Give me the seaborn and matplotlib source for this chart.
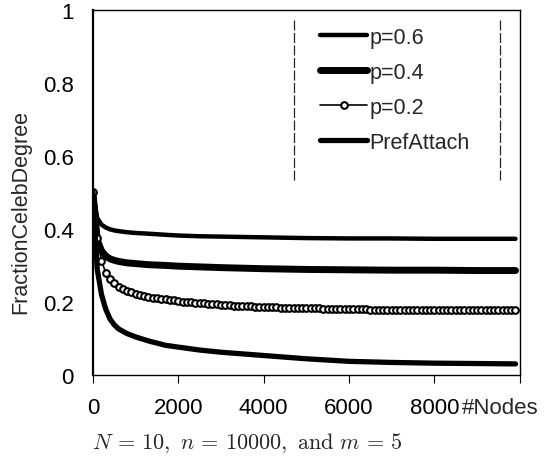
import matplotlib
matplotlib.use("Agg")
import matplotlib.pyplot as plt
import seaborn as sns
import numpy as np
import pandas as pd


# node counts for the solid curves (sampled where the curves bend)
nodes_coarse = [0, 100, 200, 300, 400, 500, 600, 800, 1000, 1300, 1700, 2000,
                2500, 3000, 4000, 5000, 6000, 7000, 8000, 9000, 9900]

frac_p06 = [0.500, 0.430, 0.412, 0.404, 0.399, 0.396, 0.394, 0.391, 0.389, 0.387,
            0.384, 0.382, 0.380, 0.379, 0.377, 0.375, 0.374, 0.374, 0.373, 0.373,
            0.373]
frac_p04 = [0.500, 0.370, 0.340, 0.326, 0.318, 0.314, 0.311, 0.307, 0.305, 0.302,
            0.300, 0.298, 0.296, 0.294, 0.291, 0.289, 0.288, 0.287, 0.287, 0.286,
            0.286]
frac_pref = [0.500, 0.290, 0.220, 0.180, 0.153, 0.137, 0.126, 0.113, 0.104, 0.093,
             0.081, 0.076, 0.068, 0.062, 0.053, 0.044, 0.037, 0.034, 0.032, 0.031,
             0.030]

# p=0.2 is drawn with a marker every 100 nodes
nodes_fine = np.arange(0, 10000, 100)
frac_p02 = [
    0.500, 0.374, 0.313, 0.280, 0.263, 0.251, 0.242, 0.235, 0.230, 0.226,
    0.222, 0.219, 0.216, 0.214, 0.212, 0.210, 0.208, 0.207, 0.205, 0.204,
    0.202, 0.201, 0.200, 0.199, 0.198, 0.197, 0.196, 0.195, 0.194, 0.193,
    0.192, 0.191, 0.191, 0.190, 0.189, 0.189, 0.188, 0.188, 0.187, 0.187,
    0.186, 0.186, 0.185, 0.185, 0.184, 0.184, 0.184, 0.183, 0.183, 0.183,
    0.182, 0.182, 0.182, 0.182, 0.181, 0.181, 0.181, 0.181, 0.181, 0.180,
    0.180, 0.180, 0.180, 0.180, 0.180, 0.179, 0.179, 0.179, 0.179, 0.179,
    0.179, 0.179, 0.179, 0.179, 0.178, 0.178, 0.178, 0.178, 0.178, 0.178,
    0.178, 0.178, 0.178, 0.178, 0.178, 0.177, 0.177, 0.177, 0.177, 0.177,
    0.177, 0.177, 0.177, 0.177, 0.177, 0.177, 0.177, 0.177, 0.177, 0.177,
]

x_ticks = [0, 2000, 4000, 6000, 8000, 10000]
x_tick_labels = ["0", "2000", "4000", "6000", "8000", ""]
y_ticks = [0, 0.2, 0.4, 0.6, 0.8, 1]
y_tick_labels = ["0", "0.2", "0.4", "0.6", "0.8", "1"]

sns.set_style("white")
plt.rcParams['font.family'] = ['Liberation Sans', 'DejaVu Sans']
plt.rcParams['mathtext.fontset'] = 'cm'

fig = plt.figure(figsize=(5.5, 4.64), dpi=100)
ax = fig.add_axes([0.169, 0.190, 0.776, 0.786])

coarse = pd.DataFrame({'nodes': nodes_coarse, 'p06': frac_p06,
                       'p04': frac_p04, 'pref': frac_pref})
fine = pd.DataFrame({'nodes': nodes_fine, 'p02': frac_p02})

sns.lineplot(data=coarse, x='nodes', y='p06', ax=ax, color='black',
             linewidth=3.2, label='p=0.6')
sns.lineplot(data=coarse, x='nodes', y='p04', ax=ax, color='black',
             linewidth=5.0, label='p=0.4')
sns.lineplot(data=fine, x='nodes', y='p02', ax=ax, color='black',
             linewidth=1.2, marker='o', markersize=4.8,
             markerfacecolor='white', markeredgecolor='black',
             markeredgewidth=1.5, label='p=0.2')
sns.lineplot(data=coarse, x='nodes', y='pref', ax=ax, color='black',
             linewidth=3.8, label='PrefAttach')

ax.set_xlim(0, 10000)
ax.set_ylim(0, 1)
ax.set_xticks(x_ticks)
ax.set_xticklabels(x_tick_labels)
ax.set_yticks(y_ticks)
ax.set_yticklabels(y_tick_labels)
ax.tick_params(axis='x', direction='out', length=6, width=0.8, pad=10,
               labelsize=16, bottom=True, colors='black')
ax.tick_params(axis='y', length=0, pad=14, labelsize=16, colors='black')

for side in ['top', 'right', 'bottom']:
    ax.spines[side].set_linewidth(1.0)
    ax.spines[side].set_color('black')
ax.spines['left'].set_linewidth(1.6)
ax.spines['left'].set_color('black')

ax.set_ylabel('FractionCelebDegree', fontsize=15.5)
ax.yaxis.set_label_coords(-0.145, 0.45)
ax.set_xlabel('#Nodes', fontsize=16, ha='left')
ax.xaxis.set_label_coords(0.864, -0.062)
ax.xaxis.label.set_va('top')

leg = ax.legend(loc='upper left', bbox_to_anchor=(0.512, 0.978),
                fontsize=15.5, handlelength=2.2, handletextpad=0.1,
                labelspacing=0.65, numpoints=1, frameon=False,
                borderpad=0.4, borderaxespad=0)

# legend box shows only its two dashed sides
fig.canvas.draw()
bb = leg.get_window_extent().transformed(ax.transAxes.inverted())
for xe in [bb.x0 - 0.04, bb.x1 + 0.05]:
    ax.plot([xe, xe], [bb.y0 - 0.05, bb.y1 - 0.005], transform=ax.transAxes,
            color='0.15', linewidth=0.9, linestyle=(0, (8, 2)))

fig.text(0.45, 0.045, r"$N\,=\,10,\ n\,=\,10000,\ \mathrm{and}\ m\,=\,5$",
         ha='center', va='center', fontsize=16)

fig.savefig('out.png', dpi=100)
